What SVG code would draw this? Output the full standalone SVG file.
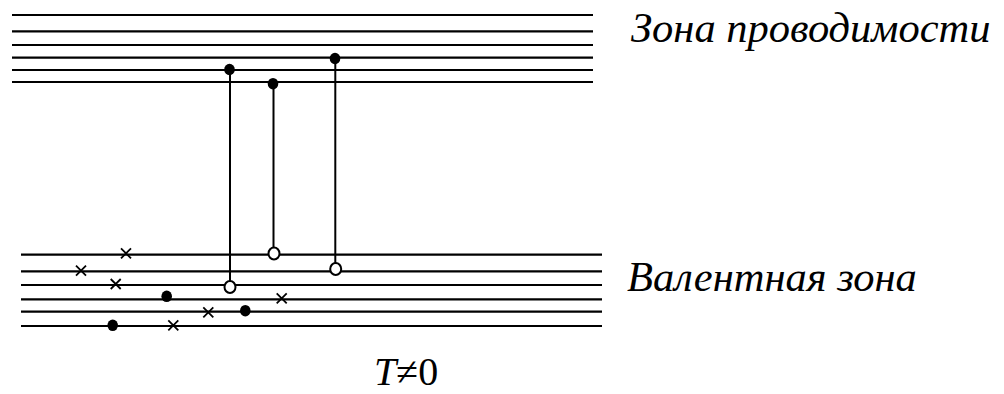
<svg xmlns="http://www.w3.org/2000/svg" width="1004" height="394" viewBox="0 0 1004 394">
<style>
.lvl{stroke:#000;stroke-width:2.2}
.link{stroke:#000;stroke-width:2}
.el{fill:#000}
.hole{fill:#fff;stroke:#000;stroke-width:2}
.x{stroke:#000;stroke-width:1.8}
text{font-family:'Liberation Serif','DejaVu Serif',serif;font-size:40px;fill:#000}
.lbl{font-style:italic}
.big{font-size:42.5px}
</style>
<rect width="1004" height="394" fill="#fff"/>
<g id="conduction-band">
<line class="lvl" x1="12" y1="15" x2="593" y2="15"/>
<line class="lvl" x1="12" y1="31.3" x2="593" y2="31.3"/>
<line class="lvl" x1="12" y1="45" x2="593" y2="45"/>
<line class="lvl" x1="12" y1="57.7" x2="593" y2="57.7"/>
<line class="lvl" x1="12" y1="70" x2="593" y2="70"/>
<line class="lvl" x1="12" y1="82" x2="593" y2="82"/>
</g>
<g id="valence-band">
<line class="lvl" x1="21" y1="254.7" x2="602" y2="254.7"/>
<line class="lvl" x1="21" y1="271.3" x2="602" y2="271.3"/>
<line class="lvl" x1="21" y1="285" x2="602" y2="285"/>
<line class="lvl" x1="21" y1="299.3" x2="602" y2="299.3"/>
<line class="lvl" x1="21" y1="311.7" x2="602" y2="311.7"/>
<line class="lvl" x1="21" y1="326" x2="602" y2="326"/>
</g>
<g id="connectors">
<line class="link" x1="230" y1="70" x2="230" y2="287"/>
<line class="link" x1="273.5" y1="84" x2="273.5" y2="254"/>
<line class="link" x1="335.3" y1="59" x2="335.3" y2="269"/>
</g>
<g id="electrons-conduction">
<ellipse class="el" cx="229.5" cy="69.5" rx="5.3" ry="5.8"/>
<ellipse class="el" cx="273" cy="83.7" rx="5.3" ry="5.8"/>
<ellipse class="el" cx="335" cy="58.5" rx="5.3" ry="5.8"/>
</g>
<g id="holes">
<ellipse class="hole" cx="274" cy="253.5" rx="5.5" ry="6"/>
<ellipse class="hole" cx="335.7" cy="269" rx="5.5" ry="6"/>
<ellipse class="hole" cx="230" cy="287" rx="5.5" ry="6"/>
</g>
<g id="electrons-valence">
<ellipse class="el" cx="112.7" cy="325.3" rx="5.3" ry="5.8"/>
<ellipse class="el" cx="166.7" cy="296.3" rx="5.3" ry="5.8"/>
<ellipse class="el" cx="245.3" cy="310.7" rx="5.3" ry="5.8"/>
</g>
<g id="crosses">
<path class="x" d="M121,248.3l10,10M131,248.3l-10,10"/>
<path class="x" d="M76,265.7l10,10M86,265.7l-10,10"/>
<path class="x" d="M110.7,279l10,10M120.7,279l-10,10"/>
<path class="x" d="M168.3,320.3l10,10M178.3,320.3l-10,10"/>
<path class="x" d="M203.3,307.3l10,10M213.3,307.3l-10,10"/>
<path class="x" d="M276.7,293.3l10,10M286.7,293.3l-10,10"/>
</g>
<g id="label-conduction"><text class="lbl big" x="631" y="42">Зона проводимости</text></g>
<g id="label-valence"><text class="lbl big" x="627" y="290.7">Валентная зона</text></g>
<g id="label-temp"><text x="374" y="385"><tspan class="lbl">T</tspan>≠0</text></g>
</svg>
